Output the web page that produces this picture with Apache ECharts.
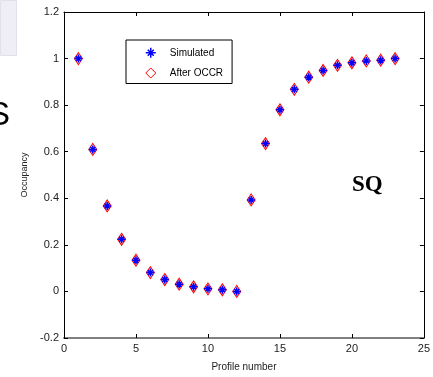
<!DOCTYPE html>
<html>
<head>
<meta charset="utf-8">
<script src="https://cdn.jsdelivr.net/npm/echarts@6/dist/echarts.min.js"></script>
<style>
  html, body { margin: 0; padding: 0; background: #fff; }
  #chart { width: 433px; height: 377px; }
</style>
</head>
<body>
<div id="chart"></div>
<script>
// profile numbers and occupancy values
const profiles = [1, 2, 3, 4, 5, 6, 7, 8, 9, 10, 11, 12, 13, 14, 15, 16, 17, 18, 19, 20, 21, 22, 23]
const simulated = [1.0, 0.61, 0.367, 0.224, 0.134, 0.081, 0.051, 0.031, 0.02, 0.011, 0.007, 0.0,
  0.393, 0.635, 0.78, 0.868, 0.92, 0.949, 0.971, 0.982, 0.99, 0.993, 1.0]
const afterOccr = [1.0, 0.61, 0.367, 0.224, 0.134, 0.081, 0.051, 0.031, 0.02, 0.011, 0.007, 0.0,
  0.393, 0.635, 0.78, 0.868, 0.92, 0.949, 0.971, 0.982, 0.99, 0.993, 1.0]

const xTicks = { min: 0, max: 25, interval: 5 }
const yTicks = { min: -0.2, max: 1.2, interval: 0.2 }

const asterisk = 'path://M0,-10L0,10M-10,0L10,0M-6,-6L6,6M-6,6L6,-6'
const font = 'Arial, "Liberation Sans", sans-serif'

const chart = echarts.init(document.getElementById('chart'))

const axisCommon = {
  axisLine: { onZero: false, lineStyle: { color: '#000', width: 1 } },
  axisTick: { inside: true, length: 4, lineStyle: { color: '#000' } },
  splitLine: { show: false },
}

chart.setOption({
  animation: false,
  backgroundColor: '#fff',
  grid: { left: 64, top: 12, right: -1, bottom: 36 },
  legend: {
    left: 126,
    top: 40,
    orient: 'vertical',
    backgroundColor: '#fff',
    borderColor: '#000',
    borderWidth: 1,
    borderRadius: 0,
    padding: [7, 9, 5, 19],
    itemWidth: 10,
    itemHeight: 10,
    itemGap: 9,
    textStyle: { fontFamily: font, fontSize: 10, color: '#000', padding: [0, 0, 0, 9] },
    data: [
      { name: 'Simulated', icon: asterisk, itemStyle: { color: '#0000ff', borderColor: '#0000ff', borderWidth: 1.5 } },
      { name: 'After OCCR', icon: 'diamond', itemStyle: { color: 'rgba(255,0,0,0)', borderColor: '#ff0000', borderWidth: 1 } },
    ],
  },
  xAxis: [
    {
      type: 'value',
      ...xTicks,
      ...axisCommon,
      axisLine: { onZero: false, lineStyle: { color: '#808080', width: 2 } },
      name: 'Profile number',
      nameLocation: 'middle',
      nameGap: 24,
      nameTextStyle: { fontFamily: font, fontSize: 10, color: '#222' },
      axisLabel: { fontFamily: font, fontSize: 11, color: '#222', margin: 5 },
    },
    {
      type: 'value',
      position: 'top',
      ...xTicks,
      ...axisCommon,
      axisLabel: { show: false },
    },
  ],
  yAxis: [
    {
      type: 'value',
      ...yTicks,
      ...axisCommon,
      name: 'Occupancy',
      nameLocation: 'middle',
      nameGap: 27,
      nameTextStyle: { fontFamily: font, fontSize: 9, color: '#222' },
      axisLabel: { fontFamily: font, fontSize: 11, color: '#222', margin: 5 },
    },
    {
      type: 'value',
      position: 'right',
      ...yTicks,
      ...axisCommon,
      axisLabel: { show: false },
    },
  ],
  series: [
    {
      name: 'After OCCR',
      type: 'scatter',
      symbol: 'diamond',
      symbolSize: [8, 12],
      z: 2,
      itemStyle: { color: 'rgba(255,170,170,0.45)', borderColor: '#ff0000', borderWidth: 1, opacity: 1 },
      data: profiles.map((p, i) => [p, afterOccr[i]]),
    },
    {
      name: 'Simulated',
      type: 'scatter',
      symbol: asterisk,
      symbolSize: 8,
      z: 3,
      itemStyle: { color: '#0000ff', borderColor: '#0000ff', borderWidth: 1.5, opacity: 1 },
      data: profiles.map((p, i) => [p, simulated[i]]),
    },
  ],
  graphic: [
    { type: 'rect', left: 0, top: 0, shape: { width: 16, height: 55 }, style: { fill: '#efeef6', stroke: '#e2e1ea', lineWidth: 1 } },
    { type: 'text', left: -12, top: 99, style: { text: 'S', font: '33px Arial, "Liberation Sans", sans-serif', fill: '#000' } },
    { type: 'text', left: 352, top: 174, style: { text: 'SQ', font: 'bold 23px "Liberation Serif", "Times New Roman", serif', fill: '#000' } },
  ],
})
</script>
</body>
</html>
